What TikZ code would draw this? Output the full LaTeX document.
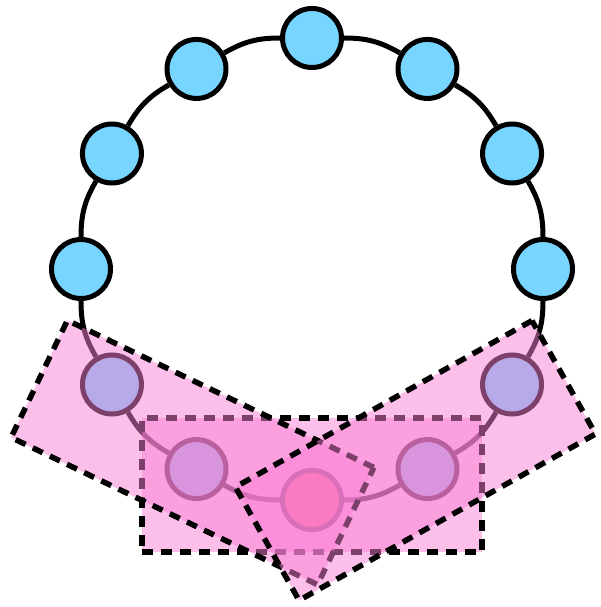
\documentclass[tikz,border=0pt]{standalone}
\definecolor{ringblue}{RGB}{119,213,255}
\definecolor{ringhub}{RGB}{255,90,60}
\definecolor{windowpink}{RGB}{250,128,212}
\tikzset{
  vertex/.style={circle, draw=black, fill=ringblue, line width=5pt,
    minimum size=59pt, inner sep=0pt},
  hub6/.style={fill=ringhub},
  ring/.style={line width=5pt, draw=black},
  window/.style={rectangle, draw=black, fill=windowpink, fill opacity=0.5,
    line width=5.5pt, dash pattern=on 11pt off 8pt, minimum width=340pt,
    minimum height=130pt, inner sep=0pt}
}
\begin{document}
\begin{tikzpicture}[x=1pt,y=1pt]
  \useasboundingbox (-312,-338) rectangle (288,269);

  \foreach \i in {0,...,11}
    \node[vertex, hub\i/.try] (v\i) at ({90-30*\i}:231) {};
  \foreach \i in {0,...,11} {
    \pgfmathtruncatemacro{\j}{mod(\i+1,12)}
    \draw[ring] (v\i) to[bend left=15] (v\j);
  }

  \node[window, minimum height=134pt] (midwin) at (0,-216) {};
  \node[window, rotate=-25.66] (leftwin) at (-119.5,-183.5) {};
  \node[window, rotate=29.3] (rightwin) at (103.5,-191.5) {};
\end{tikzpicture}
\end{document}
